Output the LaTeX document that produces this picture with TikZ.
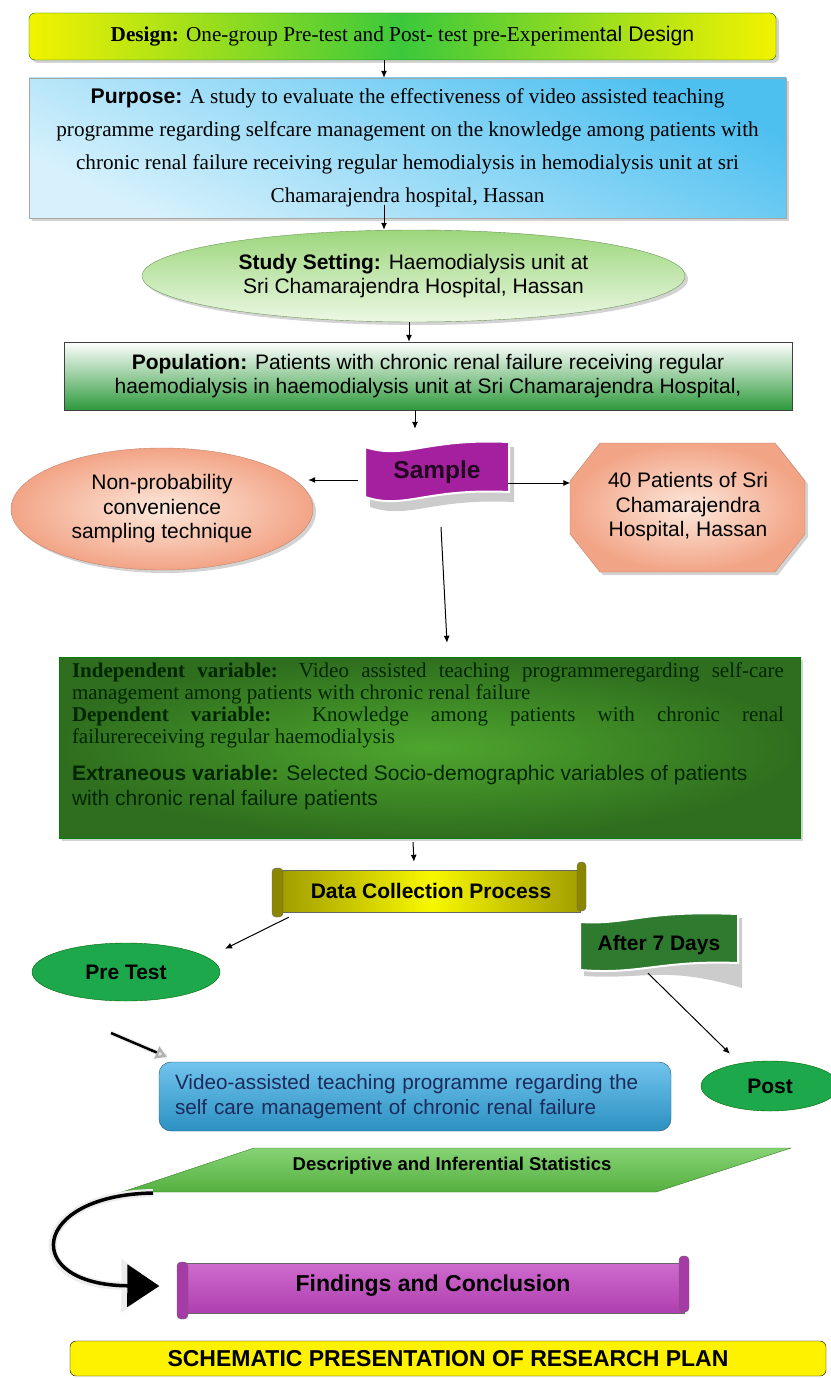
\documentclass[tikz,border=0pt]{standalone}
\usepackage{fontspec}
\setmainfont{Liberation Serif}
\setsansfont{Liberation Sans}
\usepackage{tikz}
\usetikzlibrary{shapes.geometric}
\usetikzlibrary{shadows}
\usetikzlibrary{arrows.meta}
\definecolor{designyellow}{HTML}{F2F200}
\definecolor{designgreen}{HTML}{3CC83C}
\definecolor{skyblue}{HTML}{4EC0F0}
\definecolor{paleblue}{HTML}{D6F1FC}
\definecolor{leafgreen}{HTML}{9CD67C}
\definecolor{palegreen}{HTML}{ECF8E4}
\definecolor{popgreen}{HTML}{2E9A3C}
\definecolor{flagpurple}{HTML}{A4209E}
\definecolor{peach}{HTML}{F2A486}
\definecolor{palepeach}{HTML}{FDE8DC}
\definecolor{varinner}{HTML}{4EA62E}
\definecolor{varouter}{HTML}{2F6E1E}
\definecolor{scrollolive}{HTML}{A29E00}
\definecolor{flaggreen}{HTML}{2E7A2E}
\definecolor{testgreen}{HTML}{1EA84C}
\definecolor{videoblue}{HTML}{34AAE4}
\definecolor{statgreen}{HTML}{5EC446}
\definecolor{findpurple}{HTML}{C246C2}
\definecolor{navytext}{HTML}{1C2B5C}
\tikzset{
   flow/.style={draw=black, line width=1pt, -{Latex[length=7pt,width=6pt]}},
   softshadow/.style={drop shadow={shadow xshift=3pt, shadow yshift=-3pt, opacity=0.35}},
   sans/.style={font=\sffamily\fontsize{21}{24.5}\selectfont, align=center},
   designbox/.style={draw=black!55!green, rounded corners=6pt,
      left color=designyellow, right color=designyellow, middle color=designgreen,
      minimum width=747pt, minimum height=47pt, softshadow,
      font=\fontsize{21.2}{24}\selectfont},
   purposebox/.style={draw=gray!70, top color=skyblue, bottom color=paleblue, shading angle=-25,
      minimum width=757pt, minimum height=140pt, softshadow, align=center,
      font=\fontsize{21.2}{33}\selectfont},
   settingbox/.style={ellipse, sans, draw=leafgreen!70!black, top color=leafgreen, bottom color=palegreen,
      minimum width=543pt, minimum height=92pt, softshadow},
   popbox/.style={sans, draw=black!75, top color=white, bottom color=popgreen,
      minimum width=728pt, minimum height=68pt},
   peachbox/.style={sans, draw=peach!80!black, inner color=palepeach, outer color=peach},
   testbox/.style={ellipse, draw=black!60!green, fill=testgreen, font=\sffamily\bfseries\fontsize{21}{24}\selectfont},
   tagtext/.style={font=\sffamily\bfseries\fontsize{21}{24}\selectfont}
    }
\begin{document}
\begin{tikzpicture}[x=1pt,y=-1pt]
            \useasboundingbox (0,0) rectangle (830,1378);
            \node[designbox] (design) at(402.5,36.5) {\textbf{Design:} One-group Pre-test and Post- test pre-Experimen\textsf{tal Design}};
            \node[purposebox] (purpose) at(407.5,148) {{\sffamily\bfseries Purpose:} A study to evaluate the effectiveness of video assisted teaching\\programme regarding selfcare management on the knowledge among patients with\\chronic renal failure receiving regular hemodialysis in hemodialysis unit at sri\\Chamarajendra hospital, Hassan};
            \node[settingbox] (setting) at(413.5,276) {\textbf{Study Setting:} Haemodialysis unit at\\Sri Chamarajendra Hospital, Hassan};
            \node[popbox] (population) at(428,376) {\textbf{Population:} Patients with chronic renal failure receiving regular\\haemodialysis in haemodialysis unit at Sri Chamarajendra Hospital,};
            \fill[gray!40] (370,452) .. controls (410,465) and (430,443) .. (514,447) -- (514,502) .. controls (430,498) and (410,520) .. (370,507) -- cycle;
            \draw[white, line width=2pt, fill=flagpurple] (365,447) .. controls (405,460) and (425,438) .. (509,442) -- (509,492) .. controls (425,488) and (405,510) .. (365,497) -- cycle;
            \node[tagtext, text=black!80!flagpurple, minimum width=142pt, minimum height=50pt, font=\sffamily\bfseries\fontsize{24.5}{28}\selectfont] (sample) at(437,472) {Sample};
            \node[peachbox, ellipse, minimum width=302pt, minimum height=122pt, softshadow] (method) at(162,509) {Non-probability\\convenience\\sampling technique};
            \draw[draw=peach!80!black, inner color=palepeach, outer color=peach, softshadow] (600,443) -- (775,443) -- (805,481) -- (805,534) -- (775,572) -- (600,572) -- (570,534) -- (570,481) -- cycle;
            \node[sans, minimum width=235pt, minimum height=130pt] (subjects) at(688,507) {40 Patients of Sri\\Chamarajendra\\Hospital, Hassan};
            \node[draw=black!50!green, inner color=varinner, outer color=varouter, minimum width=741pt, minimum height=181pt, softshadow] (variables) at(429.5,747.5) {};
            \node[anchor=north west, text width=712pt, align=justify, inner sep=0pt, text=black!85!green] (vartext) at([xshift=13pt,yshift=-6pt]variables.north west) {{\rmfamily\fontsize{21}{22}\selectfont\textbf{Independent variable:} Video assisted teaching programmeregarding self-care\linebreak management among patients with chronic renal failure\par\textbf{Dependent variable:} Knowledge among patients with chronic renal\linebreak failurereceiving regular haemodialysis\par}\vspace{12pt}{\sffamily\fontsize{21}{25}\selectfont\textbf{Extraneous variable:} Selected Socio-demographic variables of patients\newline with chronic renal failure patients\par}};
            \draw[draw=black!60, left color=scrollolive, right color=scrollolive, middle color=yellow!92!scrollolive] (282,870) rectangle (580,912);
            \draw[draw=black!60, fill=scrollolive!85!black, rounded corners=4pt] (272,868) rectangle (283,917);
            \draw[draw=black!60, fill=scrollolive!85!black, rounded corners=4pt] (577,862) rectangle (586,911);
            \node[tagtext, minimum width=298pt, minimum height=42pt] (collection) at(431,891) {Data Collection Process};
            \fill[gray!40] (584,926) .. controls (634,929) and (644,914) .. (742,918) -- (742,988) .. controls (664,965) and (644,980) .. (584,976) -- cycle;
            \draw[white, line width=2pt, fill=flaggreen] (580,922) .. controls (630,925) and (640,910) .. (738,914) -- (738,963) .. controls (660,960) and (640,975) .. (580,970) -- cycle;
            \node[tagtext, minimum width=158pt, minimum height=50pt] (after) at(659,945) {After 7 Days};
            \node[testbox, minimum width=188pt, minimum height=58pt] (pretest) at(126,972) {Pre Test};
            \node[testbox, minimum width=138pt, minimum height=50pt] (post) at(770,1086) {Post};
            \node[draw=videoblue!50!black, rounded corners=12pt, top color=videoblue!70!white, bottom color=videoblue!85!black, minimum width=512pt, minimum height=69pt, text width=480pt, align=left, text=navytext, font=\sffamily\fontsize{20.7}{25}\selectfont] (teaching) at(415,1096.5) {Video-assisted teaching programme regarding the\\self care management of chronic renal failure};
            \draw[draw=statgreen!60!black, top color=statgreen!75!white, bottom color=statgreen!90!black] (254,1148) -- (791,1148) -- (656,1192) -- (122,1192) -- cycle;
            \node[font=\sffamily\bfseries\fontsize{18.5}{21}\selectfont] (stats) at(452,1166) {Descriptive and Inferential Statistics};
            \draw[draw=black!60, top color=findpurple!80!white, bottom color=findpurple!90!black] (185,1263) rectangle (684,1313);
            \draw[draw=black!60, fill=findpurple!85!black, rounded corners=4pt] (177,1262) rectangle (188,1319);
            \draw[draw=black!60, fill=findpurple!85!black, rounded corners=4pt] (679,1256) rectangle (689,1312);
            \node[tagtext, minimum width=511pt, minimum height=55pt, font=\sffamily\bfseries\fontsize{23}{27}\selectfont] (findings) at(433,1286) {Findings and Conclusion};
            \node[draw=black, fill=yellow, rounded corners=6pt, minimum width=756pt, minimum height=35pt, tagtext, font=\sffamily\bfseries\fontsize{23}{26}\selectfont] (plan) at(448,1358.5) {SCHEMATIC PRESENTATION OF RESEARCH PLAN};
            \coordinate (pointer) at(111,1033);
            \coordinate (curvestart) at(153,1193);
            \draw[flow]([xshift=-18.5pt]design.south)to([xshift=-23.5pt]purpose.north);
            \draw[flow]([xshift=-23.5pt,yshift=13pt]purpose.south)to([xshift=-29.5pt]setting.north);
            \draw[flow]([xshift=-4.5pt]setting.south)to([xshift=-19pt]population.north);
            \draw[flow]([xshift=-13pt]population.south)to([xshift=-22pt,yshift=18pt]sample.north);
            \draw[flow]([xshift=-8pt,yshift=-8pt]sample.west)to([xshift=-5pt,yshift=29pt]method.east);
            \draw[flow]([yshift=-11pt]sample.east)to([yshift=24pt]subjects.west);
            \draw[flow]([xshift=4pt,yshift=-30pt]sample.south)to([xshift=17.5pt,yshift=14pt]variables.north);
            \draw[flow]([xshift=-16.5pt,yshift=-4pt]variables.south)to([xshift=-17pt,yshift=8pt]collection.north);
            \draw[flow]([xshift=7pt,yshift=-5pt]collection.south west)to([xshift=99pt,yshift=-6pt]pretest.north);
            \draw[flow]([xshift=-11pt,yshift=-3pt]after.south)to([xshift=-40pt,yshift=7pt]post.north);
            \draw[line width=5pt, white!85!gray](pointer)to([xshift=8pt,yshift=5pt]teaching.north west);
            \draw[line width=2.5pt, -{Triangle[length=11pt,width=13pt,fill=gray!15,color=gray!60]}](pointer)to([xshift=8pt,yshift=5pt]teaching.north west);
            \draw[line width=8pt, white!85!gray, -{Triangle[length=38pt,width=52pt]}](curvestart) .. controls (30,1195) and (20,1285) .. ([xshift=-18pt]findings.west);
            \draw[line width=3.5pt, -{Triangle[length=32pt,width=42pt]}](curvestart) .. controls (30,1195) and (20,1285) .. ([xshift=-18pt]findings.west);
        \end{tikzpicture}
\end{document}
